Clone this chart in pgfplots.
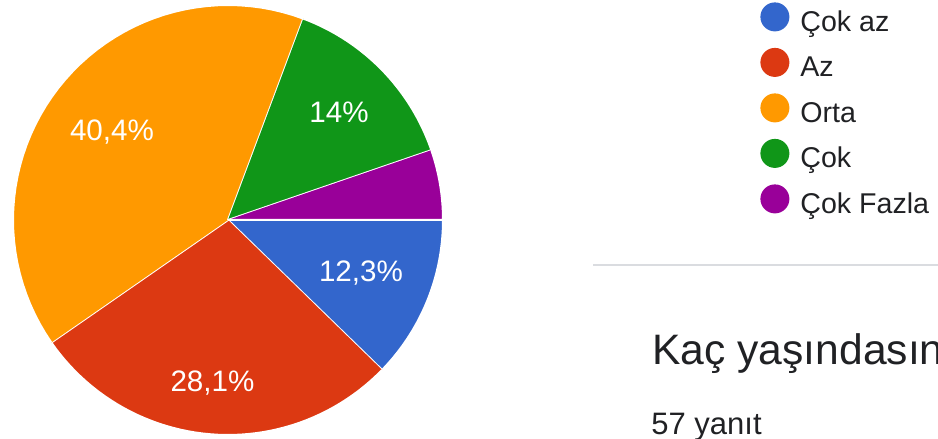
\documentclass[border=0pt]{standalone}
\usepackage{pgfplots}
\pgfplotsset{compat=1.18}
\usepackage{fontspec}
\setmainfont{Liberation Sans}
\definecolor{gblue}{HTML}{3366CC}
\definecolor{gred}{HTML}{DC3912}
\definecolor{gorange}{HTML}{FF9900}
\definecolor{ggreen}{HTML}{109618}
\definecolor{gpurple}{HTML}{990099}
\definecolor{txt}{HTML}{202124}
\definecolor{sepc}{HTML}{DADCE0}
% counts: Cok az 7, Az 16, Orta 23, Cok 8, Cok Fazla 3 (total 57)
\newcommand{\slice}[3]{%
\addplot[fill=#3, draw=white, line width=1pt, line join=round, domain=0:1.02, samples=52, variable=\t]
 ({\t<1.001 ? 228+215*cos(-360*(#1+(#2-#1)*\t)/57) : 228},
  {\t<1.001 ? 219+215*sin(-360*(#1+(#2-#1)*\t)/57) : 219});
}
\begin{document}
\begin{tikzpicture}
\path[use as bounding box] (0,0) rectangle (469pt,219.5pt);
\clip (0,0) rectangle (469pt,219.5pt);
\begin{axis}[
  x=0.5pt, y=0.5pt,
  xmin=0, xmax=938, ymin=0, ymax=439,
  hide axis, clip=false,
  legend image code/.code={\fill[#1, draw=none] (7.25pt,3.6pt) circle (7.25pt);},
  legend cell align=left,
  legend style={draw=none, fill=none, at={(axis cs:754,441)}, anchor=north west,
    font=\fontsize{14.3}{16}\selectfont, text=txt,
    nodes={inner sep=0pt, text height=10pt, text depth=3pt},
    row sep=5.4pt, column sep=0pt,
    /tikz/every odd column/.append style={column sep=5.5pt}},
]
\slice{0}{7}{gblue}
\addlegendentry{Çok az}
\slice{7}{23}{gred}
\addlegendentry{Az}
\slice{23}{46}{gorange}
\addlegendentry{Orta}
\slice{46}{54}{ggreen}
\addlegendentry{Çok}
\slice{54}{57}{gpurple}
\addlegendentry{Çok Fazla}

\node[text=white, font=\fontsize{14.8}{17}\selectfont, inner sep=0] at (axis cs:361,166) {12,3\%};
\node[text=white, font=\fontsize{14.8}{17}\selectfont, inner sep=0] at (axis cs:212.5,56) {28,1\%};
\node[text=white, font=\fontsize{14.8}{17}\selectfont, inner sep=0] at (axis cs:112,307) {40,4\%};
\node[text=white, font=\fontsize{14.8}{17}\selectfont, inner sep=0] at (axis cs:339,327) {14\%};

\draw[sepc, line width=0.75pt] (axis cs:593,174) -- (axis cs:945,174);
\node[anchor=base west, font=\fontsize{21.3}{25}\selectfont, text=txt, inner sep=0] at (axis cs:652,74) {Kaç yaşındasınız?};
\node[anchor=base west, font=\fontsize{15.5}{18}\selectfont, text=txt, inner sep=0] at (axis cs:651,4) {57 yanıt};
\end{axis}
\end{tikzpicture}
\end{document}
